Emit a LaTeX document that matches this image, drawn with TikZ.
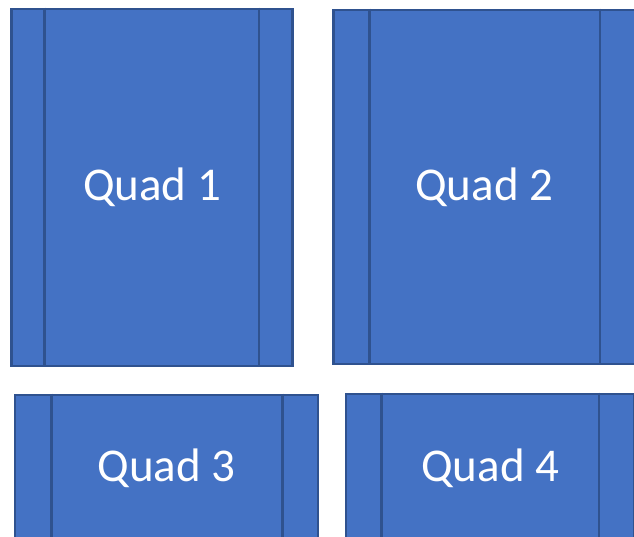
\documentclass[tikz,border=0pt]{standalone}
\usepackage{fontspec}
\setmainfont{Carlito}
\usepackage{xcolor}
\definecolor{quadfill}{HTML}{4472C4}
\definecolor{quadedge}{HTML}{2F528F}

\begin{document}
\begin{tikzpicture}[x=1pt,y=1pt,
  quad/.style={draw=quadedge,fill=quadfill,line width=2.6pt,text=white,
    inner sep=0pt,font=\fontsize{47}{54}\selectfont},
  bar/.style={draw=quadedge,line width=2.6pt}]
\clip (0,0) rectangle (634,537);
\fill[white] (0,0) rectangle (634,537);
\node[quad,minimum width=281pt,minimum height=357pt] (q1) at (152,349.5) {Quad 1};
\node[quad,minimum width=301.5pt,minimum height=354pt] (q2) at (484.25,350) {Quad 2};
\node[quad,minimum width=303pt,minimum height=147pt] (q3) at (166.5,68.5) {Quad 3};
\node[quad,minimum width=288.5pt,minimum height=149pt] (q4) at (490.25,68.5) {Quad 4};
% side bars
\draw[bar] ([xshift=34.5pt]q1.north west) -- ([xshift=34.5pt]q1.south west);
\draw[bar] ([xshift=-35pt]q1.north east) -- ([xshift=-35pt]q1.south east);
\draw[bar] ([xshift=37.5pt]q2.north west) -- ([xshift=37.5pt]q2.south west);
\draw[bar] ([xshift=-36.5pt]q2.north east) -- ([xshift=-36.5pt]q2.south east);
\draw[bar] ([xshift=37.5pt]q3.north west) -- ([xshift=37.5pt]q3.south west);
\draw[bar] ([xshift=-37pt]q3.north east) -- ([xshift=-37pt]q3.south east);
\draw[bar] ([xshift=36.5pt]q4.north west) -- ([xshift=36.5pt]q4.south west);
\draw[bar] ([xshift=-37pt]q4.north east) -- ([xshift=-37pt]q4.south east);
\end{tikzpicture}
\end{document}
